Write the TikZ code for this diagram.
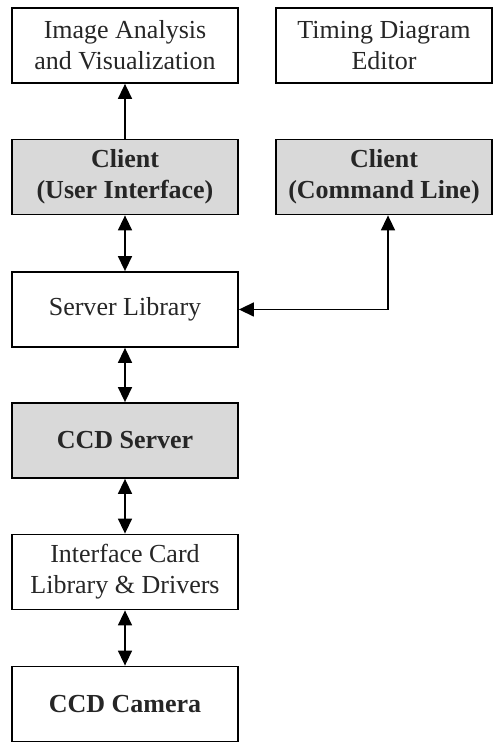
\documentclass[tikz,border=0pt]{standalone}
\usepackage{fontspec}
\setmainfont{Liberation Serif}
\usetikzlibrary{arrows.meta}
\definecolor{boxgrey}{HTML}{D9D9D9}
\definecolor{inkgrey}{HTML}{262626}
\begin{document}
\begin{tikzpicture}[x=1pt,y=1pt,
  box/.style={draw=black,line width=1.8pt,minimum width=226pt,minimum height=75pt,
    align=center,text=inkgrey,inner sep=0pt,font=\fontsize{26}{31}\selectfont},
  narrow/.style={box,minimum width=216pt},
  heavy/.style={font=\fontsize{26}{31}\selectfont\bfseries},
  shaded/.style={heavy,fill=boxgrey},
  tip/.tip={Triangle[length=15pt,width=14pt]},
  link/.style={line width=1.5pt,tip-},
  both/.style={line width=1.5pt,tip-tip}]
\useasboundingbox (0,0) rectangle (493,743);
% top row
\node[box] (ia) at (125,697.5) {Image Analysis\\and Visualization};
\node[narrow] (td) at (384,697.5) {Timing Diagram\\Editor};
% clients
\node[box,shaded] (cu) at (125,566) {Client\\(User Interface)};
\node[narrow,shaded] (cc) at (384,566) {Client\\(Command Line)};
% server side
\node[box] (sl) at (125,433.5) {Server Library};
\node[box,shaded] (cs) at (125,302.5) {CCD Server};
\node[box] (ic) at (125,171) {Interface Card\\Library \& Drivers};
\node[box,heavy] (cam) at (125,39) {CCD Camera};
% connectors
\draw[link] (ia) -- (cu);
\draw[both] (cu) -- (sl);
\draw[both] (sl.east) -| ([xshift=4pt]cc.south);
\draw[both] (sl) -- (cs);
\draw[both] (cs) -- (ic);
\draw[both] (ic) -- (cam);
\end{tikzpicture}
\end{document}
